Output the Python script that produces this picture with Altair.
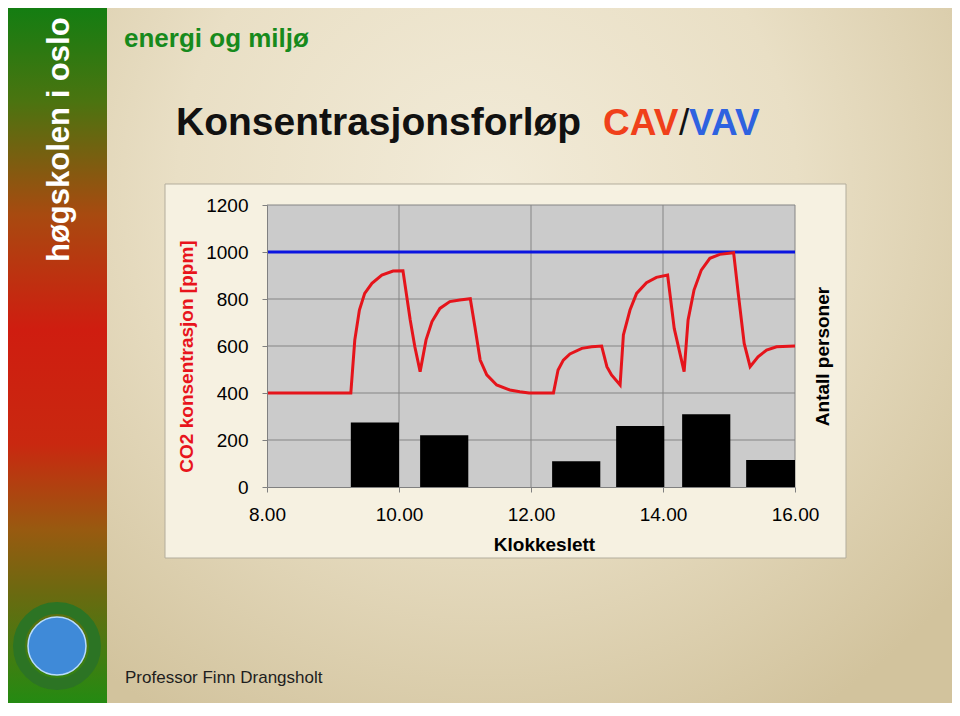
import altair as alt
import pandas as pd

# ---------------- data ----------------
co2_hours = [8.00, 9.27, 9.33, 9.40, 9.48, 9.59, 9.74, 9.91, 10.06, 10.17, 10.24, 10.32,
             10.41, 10.50, 10.62, 10.77, 10.92, 11.08, 11.15, 11.23, 11.33, 11.48, 11.68,
             11.83, 11.97, 12.34, 12.41, 12.49, 12.59, 12.77, 12.92, 13.07, 13.15, 13.22,
             13.35, 13.40, 13.50, 13.60, 13.75, 13.90, 14.07, 14.17, 14.32, 14.38, 14.47,
             14.58, 14.71, 14.86, 15.07, 15.14, 15.23, 15.32, 15.44, 15.57, 15.72, 16.00]
co2_ppm = [400, 400, 625, 753, 824, 867, 902, 919, 920, 711, 597, 491,
           626, 704, 760, 789, 796, 801, 682, 540, 477, 434, 413,
           405, 400, 400, 498, 540, 566, 590, 597, 600, 512, 477,
           434, 647, 753, 824, 869, 892, 902, 675, 491, 711, 838,
           923, 973, 990, 997, 824, 611, 512, 554, 583, 597, 600]

vav_hours = [8.0, 16.0]
vav_ppm = [1000, 1000]

bar_start = [9.27, 10.32, 12.32, 13.29, 14.29, 15.26]
bar_end = [10.00, 11.05, 13.05, 14.02, 15.02, 16.00]
persons = [55, 44, 22, 52, 62, 23]

x_ticks = [8, 10, 12, 14, 16]
y_ticks = [0, 200, 400, 600, 800, 1000, 1200]

title_main = "Konsentrasjonsforløp"
title_cav = "CAV"
title_slash = "/"
title_vav = "VAV"
subject = "energi og miljø"
school = "høgskolen i oslo"
author = "Professor Finn Drangsholt"

# ---------------- layout ----------------
W, H = 528, 282
OX, OY = 267, 205          # page position of the plot origin
PAD = {"left": OX - 8, "top": OY - 8, "right": 944 - (OX - 8) - W, "bottom": 695 - (OY - 8) - H}


def px(v):
    return v - OX


def py(v):
    return v - OY


FONT = "Liberation Sans, Arial, Helvetica, sans-serif"
xs = alt.Scale(domain=[8, 16], nice=False, zero=False)
ys = alt.Scale(domain=[0, 1200], nice=False)
one = pd.DataFrame({"k": [0]})

co2_df = pd.DataFrame({"hour": co2_hours, "ppm": co2_ppm})
vav_df = pd.DataFrame({"hour": vav_hours, "ppm": vav_ppm})
bar_df = pd.DataFrame({"start": bar_start, "end": bar_end, "persons": persons})

# ---------------- decoration ----------------
slide_bg = alt.Chart(one).mark_rect(
    fill=alt.RadialGradient(
        gradient="radial",
        stops=[alt.GradientStop(offset=0, color="#f2ebd8"),
               alt.GradientStop(offset=0.5, color="#e9dfc5"),
               alt.GradientStop(offset=1, color="#d2c39d")],
        x1=0.45, y1=0.3, r1=0, x2=0.45, y2=0.3, r2=0.72)
).encode(x=alt.value(px(100)), x2=alt.value(px(960)), y=alt.value(py(0)), y2=alt.value(py(716)))

band = alt.Chart(one).mark_rect(
    fill=alt.LinearGradient(
        gradient="linear", x1=0, y1=0, x2=0, y2=1,
        stops=[alt.GradientStop(offset=0.0, color="#0f7e12"),
               alt.GradientStop(offset=0.14, color="#4a7410"),
               alt.GradientStop(offset=0.30, color="#a84a10"),
               alt.GradientStop(offset=0.46, color="#cf1d10"),
               alt.GradientStop(offset=0.62, color="#c92810"),
               alt.GradientStop(offset=0.74, color="#985a10"),
               alt.GradientStop(offset=0.83, color="#6a6a10"),
               alt.GradientStop(offset=1.0, color="#1c8e12")])
).encode(x=alt.value(px(5)), x2=alt.value(px(107)), y=alt.value(py(0)), y2=alt.value(py(716)))

ring = alt.Chart(one).mark_point(shape="circle", filled=False, stroke="#2c7424",
                                 strokeWidth=12, size=5776, opacity=1).encode(
    x=alt.value(px(57)), y=alt.value(py(646)))
globe = alt.Chart(one).mark_point(shape="circle", filled=True, fill="#3f8ad8",
                                  stroke="#b8dcff", strokeWidth=1.5, size=3364, opacity=1).encode(
    x=alt.value(px(57)), y=alt.value(py(646)))

frame = alt.Chart(one).mark_rect(fill="#f6f1e1", stroke="#b3ad9c", strokeWidth=1).encode(
    x=alt.value(px(165)), x2=alt.value(px(846)), y=alt.value(py(184)), y2=alt.value(py(558)))


def label(txt, x, y, size, color, weight="bold", angle=0, baseline="alphabetic"):
    return alt.Chart(pd.DataFrame({"t": [txt]})).mark_text(
        align="left", baseline=baseline, fontSize=size, fontWeight=weight, color=color,
        font=FONT, angle=angle).encode(x=alt.value(px(x)), y=alt.value(py(y)), text="t:N")


texts = [
    label(subject, 124, 47, 26, "#178a1c"),
    label(title_main, 176, 135, 39, "#111111"),
    label(title_cav, 603, 135, 37, "#f0401a"),
    label(title_slash, 679, 135, 37, "#111111", weight="normal"),
    label(title_vav, 689, 135, 37, "#2e62e0"),
    label(school, 60, 262, 31, "#ffffff", angle=270, baseline="middle"),
    label(author, 125, 683, 17, "#1e1e1e", weight="normal"),
]

# ---------------- axes ----------------
x_axis = alt.Axis(values=x_ticks, format=".2f", title="Klokkeslett", grid=False,
                  domainColor="#808080", tickColor="#808080", tickSize=5,
                  labelFontSize=19, labelColor="black", labelPadding=13, labelFlush=False,
                  titleFontSize=19, titleFontWeight="bold", titleColor="black",
                  titleX=277, titleY=63, titleBaseline="alphabetic", titleAlign="center",
                  zindex=1)
y_axis = alt.Axis(values=y_ticks, format="d", title="CO2 konsentrasjon [ppm]", grid=False,
                  domainColor="#808080", tickColor="#808080", tickSize=5,
                  labelFontSize=19, labelColor="black", labelPadding=14,
                  titleFontSize=19, titleFontWeight="bold", titleColor="#e8141c",
                  titleAngle=270, titleX=-81, titleY=151, titleBaseline="middle",
                  titleAlign="center", zindex=1)
r_axis = alt.Axis(orient="right", title="Antall personer", labels=False, ticks=False,
                  domain=False, grid=False, titleFontSize=19, titleFontWeight="bold",
                  titleColor="black", titleAngle=270, titleX=27, titleY=151,
                  titleBaseline="middle", titleAlign="center", zindex=1)

# ---------------- plot ----------------
plot_bg = alt.Chart(pd.DataFrame({"x0": [x_ticks[0]], "x1": [x_ticks[-1]],
                                  "y0": [y_ticks[0]], "y1": [y_ticks[-1]]})).mark_rect(
    fill="#cbcbcb").encode(
    x=alt.X("x0:Q", scale=xs, axis=x_axis), x2="x1:Q",
    y=alt.Y("y0:Q", scale=ys, axis=y_axis), y2="y1:Q")

hgrid = alt.Chart(pd.DataFrame({"v": y_ticks[1:]})).mark_rule(
    color="#858585", strokeWidth=1).encode(y=alt.Y("v:Q", scale=ys, axis=y_axis))
vgrid = alt.Chart(pd.DataFrame({"v": x_ticks[1:]})).mark_rule(
    color="#858585", strokeWidth=1).encode(x=alt.X("v:Q", scale=xs, axis=x_axis))

red = alt.Chart(co2_df).mark_line(color="#e5141b", strokeWidth=3).encode(
    x=alt.X("hour:Q", scale=xs, axis=x_axis), y=alt.Y("ppm:Q", scale=ys, axis=y_axis))
blue = alt.Chart(vav_df).mark_line(color="#0a14e0", strokeWidth=3.2).encode(
    x=alt.X("hour:Q", scale=xs, axis=x_axis), y=alt.Y("ppm:Q", scale=ys, axis=y_axis))

inner = alt.layer(slide_bg, band, ring, globe, frame, plot_bg, hgrid, vgrid, blue, red, *texts)

bars = alt.Chart(bar_df).mark_rect(color="black").encode(
    x=alt.X("start:Q", scale=xs, axis=x_axis), x2="end:Q",
    y=alt.Y("persons:Q", scale=alt.Scale(domain=[0, 240], nice=False), axis=r_axis),
    y2=alt.datum(0))

chart = alt.layer(inner, bars).resolve_scale(y="independent").properties(
    width=W, height=H, padding=PAD, autosize=alt.AutoSizeParams(type="none"),
    background="#ffffff"
).configure(font=FONT).configure_view(strokeWidth=0)

chart.save("out.html", embed_options={"renderer": "svg", "actions": False})
